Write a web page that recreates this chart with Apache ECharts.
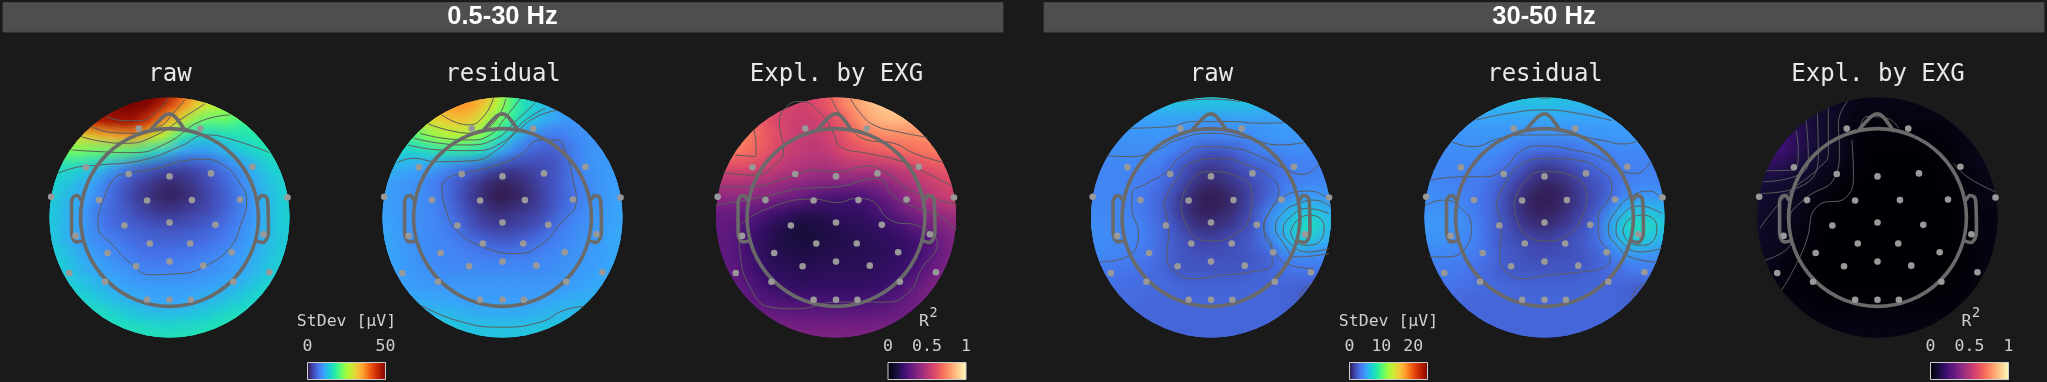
<!DOCTYPE html>
<html><head><meta charset="utf-8">
<style>html,body{margin:0;padding:0;background:#1a1a1a}#c{width:2047px;height:382px}</style>
<script src="https://cdn.jsdelivr.net/npm/echarts@6/dist/echarts.min.js"></script>
</head><body><div id="c"></div>
<script>
// Colour level (percent of each colour bar) read on a 17x17 lattice over each scalp map
const rawBroad=[
[90,95,99,99,100,100,100,100,99,83,68,52,45,40,38,36,34],
[85,88,92,98,100,100,100,97,85,72,60,54,50,43,40,38,36],
[60,65,72,88,92,95,93,82,65,56,43,40,42,38,36,34,32],
[40,45,58,62,65,68,69,56,50,34,28,28,30,33,35,36,36],
[40,44,44,42,41,41,38,31,25,20,19,20,24,27,30,33,34],
[30,31,30,27,24,17,12,10,8,7,8,11,15,20,25,29,31],
[30,28,25,22,15,11,7,5,3,4,6,9,12,17,23,27,30],
[29,26,23,20,14,10,6,4,2,3,5,8,11,16,22,26,29],
[28,25,22,17,13,11,8,6,5,6,7,9,12,16,21,26,29],
[28,25,22,18,14,12,11,10,9,9,10,12,14,18,22,26,29],
[28,25,22,19,17,15,13,12,12,12,13,14,16,19,22,26,28],
[29,28,24,21,19,17,15,14,14,15,16,17,19,21,24,27,29],
[30,28,25,23,21,20,18,17,17,17,18,19,20,22,25,28,30],
[32,31,28,26,24,22,21,21,21,21,21,22,23,25,28,31,33],
[34,33,31,29,27,25,24,22,22,22,24,25,27,29,31,33,35],
[35,35,34,33,32,30,28,27,27,27,28,30,32,33,34,35,35],
[36,36,35,35,34,34,33,33,32,33,33,34,34,35,35,36,36]];
const residualBroad=[
[60,62,65,68,70,71,71,68,52,36,28,22,20,20,20,20,20],
[55,58,60,64,68,72,72,62,50,38,30,27,22,20,20,20,20],
[40,42,45,58,60,63,62,52,42,33,26,22,20,19,19,19,19],
[30,32,38,44,49,51,49,43,33,24,17,14,14,18,19,19,19],
[28,29,28,30,32,33,32,29,22,15,12,10,11,16,19,20,20],
[25,24,22,21,20,15,13,10,7,6,7,8,10,16,19,20,21],
[22,20,19,18,14,11,7,4,2,3,5,8,11,15,18,20,21],
[22,20,19,18,15,11,6,3,1,2,4,7,11,14,18,20,22],
[22,20,19,18,16,12,8,5,4,5,6,8,12,16,19,20,22],
[22,21,19,18,17,14,10,7,6,7,8,11,15,18,19,21,22],
[23,21,19,18,17,16,14,12,11,11,13,15,17,18,20,21,23],
[23,21,20,18,17,17,16,16,15,16,16,17,18,19,20,21,23],
[23,21,20,19,18,18,18,18,18,18,18,18,19,20,21,22,23],
[24,22,21,20,20,20,20,20,20,20,20,20,20,21,22,23,24],
[25,24,23,23,22,22,21,21,21,21,21,22,23,24,24,25,25],
[27,27,26,26,26,25,24,24,24,24,24,25,25,26,26,27,27],
[28,28,28,28,28,28,27,27,27,27,27,28,28,28,28,28,28]];
const explBroad=[
[65,65,64,63,60,58,57,60,68,80,85,88,90,90,90,90,90],
[70,70,68,65,60,57,55,60,65,75,83,88,90,89,88,86,85],
[72,72,70,66,60,56,54,55,60,68,78,83,84,84,82,80,78],
[75,75,74,68,62,56,53,53,57,64,70,73,74,74,76,75,73],
[70,72,70,65,60,54,52,50,54,60,62,64,66,68,70,72,72],
[58,60,60,58,54,50,48,46,47,50,50,49,52,56,60,63,64],
[48,48,48,46,44,42,40,38,38,37,36,38,42,48,52,56,60],
[40,40,40,39,36,33,30,25,22,22,23,28,34,40,47,52,55],
[30,31,30,26,22,18,15,15,17,18,18,22,27,33,38,42,45],
[29,29,25,20,15,12,10,12,14,15,16,17,20,24,30,35,39],
[30,28,23,18,14,12,11,12,13,14,15,16,17,19,22,30,37],
[30,28,24,18,15,14,13,14,15,15,15,16,17,19,24,31,36],
[32,30,25,20,17,16,15,16,16,16,16,17,18,21,28,34,38],
[33,32,28,23,19,18,17,18,18,18,18,19,21,27,33,38,39],
[36,34,32,28,25,24,24,23,23,23,23,24,27,31,35,38,39],
[37,36,35,33,32,31,30,30,30,30,30,31,32,33,34,36,37],
[38,38,37,37,36,36,36,36,36,36,36,36,36,37,37,38,38]];
const rawHigh=[
[24,25,25,26,26,27,28,28,28,28,28,27,26,25,24,24,24],
[21,22,22,23,24,25,25,25,25,25,25,25,24,23,23,23,22],
[19,19,20,20,21,21,20,20,19,19,20,20,20,21,21,21,21],
[19,19,19,19,19,19,17,17,16,17,17,18,19,20,20,19,19],
[18,18,18,18,18,17,15,11,9,9,11,15,16,17,18,17,17],
[17,17,17,17,16,15,10,7,5,6,8,11,12,15,16,16,16],
[17,17,17,16,15,13,9,5,3,4,6,8,11,15,16,17,17],
[17,17,17,16,14,11,6,3,1,2,4,8,11,17,20,21,19],
[18,17,17,16,14,11,6,3,2,3,5,9,17,23,27,28,24],
[18,18,17,17,15,12,9,5,4,5,7,10,17,25,30,33,25],
[18,18,17,17,15,12,10,8,7,8,9,11,15,22,27,25,22],
[18,17,16,15,14,12,10,9,9,9,9,10,11,15,18,17,17],
[15,15,14,14,13,12,10,10,10,10,10,11,12,13,14,14,14],
[14,14,13,13,13,13,12,12,12,12,12,12,12,12,11,11,11],
[13,13,13,13,12,12,12,12,12,12,12,12,12,12,11,10,10],
[12,12,12,12,12,12,12,12,12,12,12,12,12,12,11,11,11],
[12,12,12,12,12,12,12,12,12,12,12,12,12,12,12,12,12]];
const residualHigh=[
[26,26,26,26,26,26,27,28,28,28,27,26,26,25,24,24,24],
[22,22,23,23,24,24,24,25,25,25,24,24,23,23,22,22,22],
[20,20,20,20,21,21,21,21,21,21,21,21,21,21,21,21,21],
[18,19,19,19,19,19,19,18,18,18,18,19,19,20,20,20,20],
[17,18,18,18,18,18,15,13,12,12,13,15,16,17,17,17,17],
[17,17,17,17,17,15,12,8,5,6,8,11,13,16,16,16,16],
[18,17,16,15,15,12,8,5,3,3,5,8,10,14,16,17,17],
[18,18,18,16,14,11,6,3,1,2,4,7,10,15,19,20,20],
[19,19,19,17,14,11,6,3,2,3,5,8,13,23,27,27,25],
[20,20,19,18,15,11,8,5,4,5,7,10,16,26,32,33,27],
[18,19,18,17,15,11,9,8,7,8,9,11,14,22,28,26,23],
[17,17,16,16,14,12,10,9,8,9,9,10,12,16,19,18,17],
[15,15,15,14,13,11,10,10,10,10,10,11,12,13,14,15,15],
[14,14,14,13,13,13,12,12,12,12,12,12,12,12,11,11,12],
[13,13,13,12,12,12,12,12,12,12,12,12,12,12,11,11,11],
[12,12,12,12,12,12,12,12,12,12,12,12,12,12,12,12,12],
[12,12,12,12,12,12,12,12,12,12,12,12,12,12,12,12,12]];
const explHigh=[
[3,3,5,6,7,7,5,4,4,4,4,4,4,4,4,4,4],
[14,14,14,12,9,7,5,3,3,3,3,3,3,3,4,4,4],
[19,19,18,13,10,7,4,2,2,2,2,2,2,3,3,4,4],
[20,20,20,15,10,7,4,1,1,1,1,1,1,2,3,4,4],
[19,20,20,13,10,7,4,1,0,0,0,0,1,1,3,4,5],
[17,16,13,10,8,5,3,1,0,0,0,0,0,1,2,4,5],
[10,10,9,7,5,3,1,0,0,0,0,0,0,1,1,3,4],
[9,8,7,5,3,1,0,0,0,0,0,0,0,0,1,3,4],
[8,7,5,4,1,0,0,0,0,0,0,0,0,0,1,2,3],
[8,6,5,3,1,0,0,0,0,0,0,0,0,0,1,2,3],
[7,6,5,2,1,0,0,0,0,0,0,0,0,0,1,2,3],
[6,5,3,1,0,0,0,0,0,0,0,0,0,0,1,2,3],
[5,4,2,1,0,0,0,0,0,0,0,0,0,0,1,2,3],
[4,3,2,1,1,0,0,0,0,0,0,0,0,1,1,2,3],
[4,3,2,2,1,1,1,1,1,1,1,1,1,1,2,3,3],
[4,4,3,3,2,2,2,2,2,2,2,2,2,2,3,3,4],
[4,4,4,4,3,3,3,3,3,3,3,3,3,3,4,4,4]];

// Iso-lines read per map, in the map's own scalp-plane units
const isoRawBroad=[
[[505,295],[470,335],[420,362],[370,362],[320,350]],
[[555,300],[520,340],[480,380],[400,400],[340,398],[275,380]],
[[615,312],[540,360],[470,405],[380,430],[310,425],[245,410]],
[[690,345],[600,365],[500,430],[400,458],[300,455],[215,450]],
[[808,458],[700,420],[620,405],[540,440],[430,480],[300,495],[240,500],[175,520]],
[[315,590],[345,535],[387,520],[470,505],[540,485],[610,478],[665,492],[720,550],[740,605],[725,665],[690,742],[620,795],[540,820],[450,823],[400,795],[340,735],[295,675],[300,630],[315,590]]];
const isoResidualBroad=[
[[460,295],[430,350],[385,375],[305,345]],
[[497,297],[460,370],[400,400],[330,392],[265,372]],
[[540,297],[490,360],[450,405],[390,420],[310,415],[240,400]],
[[585,310],[520,370],[470,415],[380,435],[300,430],[222,415]],
[[615,325],[550,365],[490,425],[400,452],[300,450],[205,435]],
[[648,332],[590,350],[530,395],[470,450],[400,482],[290,485],[220,475],[172,488]],
[[305,555],[330,530],[380,518],[470,495],[540,465],[600,420],[650,420],[680,470],[700,550],[708,600],[660,670],[600,735],[530,760],[430,740],[350,690],[315,620],[305,555]],
[[245,915],[350,960],[480,980],[600,965],[670,930],[730,918]]];
const isoExplBroad=[
[[510,295],[540,340],[580,375],[650,395],[740,412]],
[[452,295],[500,370],[560,420],[640,430],[700,460],[787,487]],
[[130,517],[220,525],[290,490],[310,450],[298,370],[320,320],[360,305],[420,340],[460,400],[480,440],[560,460],[650,480],[720,510],[815,558]],
[[222,390],[228,440],[225,470],[165,465]],
[[118,560],[200,560],[330,530],[400,510],[470,515],[560,498],[620,520],[690,570],[828,612]],
[[108,615],[250,590],[370,565],[470,560],[590,535],[640,590],[700,620],[780,650],[825,690]],
[[175,680],[250,630],[400,597],[470,607],[530,595],[570,600],[630,660],[720,680],[770,730],[720,810],[690,870],[620,905],[470,905],[350,925],[270,920],[210,860],[180,760],[175,680]]];
const isoRawHigh=[
[[475,305],[570,298],[660,305]],
[[330,385],[450,380],[520,365],[630,365],[720,370],[790,368]],
[[262,467],[330,470],[410,450],[470,420],[570,400],[680,415],[780,435],[850,428]],
[[240,785],[320,770],[355,700],[335,620],[335,580],[380,550],[440,515],[480,470],[550,440],[640,445],[720,470],[800,510],[850,523],[895,490]],
[[430,610],[460,550],[520,485],[600,475],[680,495],[750,530],[775,575],[750,630],[730,680],[755,745],[755,790],[690,815],[600,825],[520,835],[465,815],[440,770],[445,700],[430,610]],
[[482,615],[510,545],[570,515],[640,525],[695,580],[690,640],[640,705],[570,722],[510,695],[482,615]],
[[810,695],[830,660],[870,645],[910,680],[900,720],[860,735],[825,725],[810,695]],
[[925,640],[860,625],[810,650],[788,690],[810,730],[860,755],[925,745]],
[[930,620],[880,600],[830,612],[790,635],[765,680],[790,730],[830,770],[925,760]],
[[925,600],[870,573],[830,575],[790,590],[750,630],[730,680],[755,745],[810,795],[880,805]],
[[835,895],[850,865],[875,850]]];
const isoResidualHigh=[
[[540,295],[570,295]],
[[350,360],[450,340],[554,330],[650,340],[755,362]],
[[275,425],[340,440],[420,415],[500,405],[620,405],[720,420],[790,432],[830,425]],
[[215,540],[310,530],[380,530],[440,500],[480,455],[540,438],[640,450],[730,475],[790,515],[830,520],[870,485]],
[[195,617],[250,600],[300,620],[335,680],[320,740],[260,770],[210,770]],
[[410,620],[430,560],[490,490],[560,475],[650,480],[720,510],[755,560],[750,590],[715,650],[715,700],[750,770],[735,800],[660,815],[560,825],[490,835],[440,815],[420,760],[425,690],[410,620]],
[[463,615],[490,550],[550,515],[630,525],[680,590],[670,640],[630,700],[560,722],[490,695],[463,615]],
[[788,690],[810,655],[850,645],[890,680],[880,720],[840,735],[805,725],[788,690]],
[[905,640],[840,618],[790,640],[768,690],[790,730],[840,755],[905,745]],
[[905,600],[870,573],[820,585],[770,630],[745,690],[770,735],[810,770],[890,785]],
[[815,895],[830,865],[855,850]]];
const isoExplHigh=[
[[268,392],[275,450],[260,510],[180,512]],
[[298,362],[305,470],[285,520],[170,545]],
[[332,340],[335,470],[280,560],[165,580]],
[[365,325],[365,460],[340,500],[240,585],[160,685]],
[[422,305],[395,370],[398,450],[385,530],[290,600],[250,660],[255,720],[175,780]],
[[435,420],[440,520],[420,590],[330,620],[300,720],[270,790],[225,870]],
[[460,385],[480,350],[540,355],[575,385]],
[[740,490],[780,530],[865,575]]];

// Electrode positions and head outline, in the first map's scalp-plane units
const electrodes=[[417,386],[601,386],[259,502],[757,500],[387,522],[509,529],[633,520],[155,590],[298,600],[442,601],[576,600],[720,598],[862,592],[374,676],[509,667],[646,674],[228,707],[790,702],[450,730],[571,730],[324,758],[695,756],[409,798],[509,784],[610,796],[209,818],[808,816],[316,844],[700,844],[442,898],[509,898],[573,898]];
const noseOutline=[[455,388],[490,350],[509,342],[525,350],[556,392]];
const leftEar=[[243,598],[233,586],[222,590],[216,605],[216,690],[218,710],[230,725],[248,722]];
const rightEar=[[775,598],[785,586],[798,590],[803,605],[805,690],[802,712],[788,727],[770,722]];

// Panels
const mapTitles=['raw','residual','Expl. by EXG','raw','residual','Expl. by EXG'];
const mapFields=[rawBroad,residualBroad,explBroad,rawHigh,residualHigh,explHigh];
const mapIso=[isoRawBroad,isoResidualBroad,isoExplBroad,isoRawHigh,isoResidualHigh,isoExplHigh];
const mapLeftUnits=[150,128,108,213,195,153];
const mapCentersPx=[169.5,502.5,836,1211,1544.5,1877.5];
const headerTitles=['0.5-30 Hz','30-50 Hz'];
const barTitles=['StDev [µV]','R','StDev [µV]','R'];
const barMax=[50,1,24.5,1];
const barTicks=[[0,50],[0,0.5,1],[0,10,20],[0,0.5,1]];
const barLeftPx=[307.5,888,1349.5,1930.5];

const turbo=['#30123b','#4145ab','#4675ed','#39a2fc','#1bcfd4','#24eca6','#61fc6c','#a4fc3b','#d1e834','#f3c63a','#fe9b2d','#f36315','#d93806','#b11901','#7a0402'];
const magma=['#000004','#140e36','#3b0f70','#641a80','#8c2981','#b73779','#de4968','#f7705c','#fe9f6d','#fecf92','#fcfdbf'];
const mapPalette=[turbo,turbo,magma,turbo,turbo,magma];
const barPalette=[turbo,magma,turbo,magma];

function hex(c){return [1,3,5].map(i=>parseInt(c.substr(i,2),16));}
function colourAt(pal,pct){
  const t=Math.max(0,Math.min(1,pct/100))*(pal.length-1),i=Math.min(pal.length-2,Math.floor(t)),f=t-i;
  const a=hex(pal[i]),b=hex(pal[i+1]);
  return a.map((v,k)=>Math.round(v+(b[k]-v)*f));
}
const UNITS=718, R_PX=120, TOP_UNITS=293, CY_PX=217.5;
const grids=[],xAxes=[],yAxes=[],series=[],titles=[],graphics=[];

headerTitles.forEach((t,i)=>{
  const l=i?1044:3, r=i?2044:1003;
  graphics.push({type:'rect',z:0,shape:{x:l,y:2.5,width:r-l,height:29.5},style:{fill:'#4e4e4e',stroke:'#444',lineWidth:1}});
  titles.push({text:t,padding:0,left:i?1544:502.5,top:17,textAlign:'center',textVerticalAlign:'middle',textStyle:{color:'#fff',fontFamily:'Liberation Sans',fontWeight:'bold',fontSize:25.5}});
});

mapTitles.forEach((t,m)=>{
  const L=mapLeftUnits[m], pal=mapPalette[m];
  grids.push({left:mapCentersPx[m]-R_PX,top:CY_PX-R_PX,width:2*R_PX,height:2*R_PX,show:false});
  xAxes.push({gridIndex:m,type:'value',min:L,max:L+UNITS,show:false});
  yAxes.push({gridIndex:m,type:'value',min:TOP_UNITS,max:TOP_UNITS+UNITS,inverse:true,show:false});
  titles.push({text:t,padding:0,left:mapCentersPx[m]+.5,top:74.5,textAlign:'center',textVerticalAlign:'middle',textStyle:{color:'#e8e8e8',fontFamily:'DejaVu Sans Mono',fontWeight:'normal',fontSize:24}});
  const cells=[];
  mapFields[m].forEach((row,r)=>row.forEach((v,c)=>cells.push([L+c*UNITS/16,TOP_UNITS+r*UNITS/16,v])));
  const step=UNITS/16;
  const clip=api=>{const p=api.coord([L+UNITS/2,TOP_UNITS+UNITS/2]);return {type:'circle',shape:{cx:p[0],cy:p[1],r:R_PX}};};
  const base={type:'custom',xAxisIndex:m,yAxisIndex:m,silent:true,animation:false,clip:false,data:cells,encode:{x:0,y:1}};
  series.push(Object.assign({},base,{z:1,renderItem(par,api){
    const p=api.coord([api.value(0),api.value(1)]),s=api.size([step,step]),col=colourAt(pal,api.value(2));
    return {type:'rect',shape:{x:p[0]-s[0]/2-.5,y:p[1]-s[1]/2-.5,width:s[0]+1,height:s[1]+1},style:{fill:'rgb('+col+')'},clipPath:clip(api)};
  }}));
  series.push(Object.assign({},base,{z:2,renderItem(par,api){
    const p=api.coord([api.value(0),api.value(1)]),s=api.size([step,step]),col=colourAt(pal,api.value(2));
    return {type:'circle',shape:{cx:p[0],cy:p[1],r:s[0]*1.5},clipPath:clip(api),style:{fill:new echarts.graphic.RadialGradient(.5,.5,.5,[
      {offset:0,color:'rgba('+col+',0.85)'},{offset:.45,color:'rgba('+col+',0.5)'},{offset:1,color:'rgba('+col+',0)'}])}};
  }}));
  mapIso[m].forEach(line=>series.push({type:'line',xAxisIndex:m,yAxisIndex:m,z:3,silent:true,animation:false,data:line,smooth:.5,showSymbol:false,symbol:'none',lineStyle:{color:'#5c5c5c',width:1}}));
  const dx=L-mapLeftUnits[0];
  series.push({type:'custom',xAxisIndex:m,yAxisIndex:m,z:4,silent:true,animation:false,clip:false,data:[[L+UNITS/2,TOP_UNITS+UNITS/2]],encode:{x:0,y:1},renderItem(par,api){
    const p=api.coord([api.value(0),api.value(1)]);
    return {type:'circle',shape:{cx:p[0],cy:p[1],r:R_PX*.741},style:{fill:'none',stroke:'#6a6a6a',lineWidth:3.6}};
  }});
  [noseOutline,leftEar,rightEar].forEach(o=>series.push({type:'line',xAxisIndex:m,yAxisIndex:m,z:4,silent:true,animation:false,clip:false,data:o.map(q=>[q[0]+dx,q[1]]),smooth:.3,showSymbol:false,symbol:'none',lineStyle:{color:'#6a6a6a',width:3.6,cap:'round',join:'round'}}));
  series.push({type:'scatter',xAxisIndex:m,yAxisIndex:m,z:5,silent:true,animation:false,clip:false,symbolSize:6.6,data:electrodes.map(q=>[q[0]+dx,q[1]]),itemStyle:{color:'#999',opacity:1}});
});

barMax.forEach((max,b)=>{
  const g=grids.length, pal=barPalette[b], left=barLeftPx[b], width=78;
  grids.push({left,top:362.5,width,height:17,show:false});
  xAxes.push({gridIndex:g,type:'value',min:0,max,position:'top',axisLine:{show:false},axisTick:{show:false},splitLine:{show:false},
    axisLabel:{show:true,customValues:barTicks[b],margin:7,hideOverlap:false,color:'#cfcfcf',fontFamily:'DejaVu Sans Mono',fontSize:16.5,formatter:v=>String(v)}});
  yAxes.push({gridIndex:g,type:'value',min:0,max:1,show:false});
  series.push({type:'custom',xAxisIndex:g,yAxisIndex:g,z:6,silent:true,animation:false,data:[[0,max]],encode:{x:[0,1]},renderItem(par,api){
    const a=api.coord([api.value(0),1]),c=api.coord([api.value(1),0]);
    return {type:'rect',shape:{x:a[0],y:a[1],width:c[0]-a[0],height:c[1]-a[1]},style:{stroke:'#cfcfcf',lineWidth:1,
      fill:new echarts.graphic.LinearGradient(0,0,1,0,pal.map((col,i)=>({offset:i/(pal.length-1),color:col})))}};
  }});
  const isR=barTitles[b]==='R', cx=left+width/2+(isR?-3:0);
  titles.push({text:barTitles[b],padding:0,left:cx,top:321.5,textAlign:'center',textVerticalAlign:'middle',textStyle:{color:'#cfcfcf',fontFamily:'DejaVu Sans Mono',fontWeight:'normal',fontSize:16.5}});
  if(isR) titles.push({text:'2',padding:0,left:cx+9.5,top:313,textAlign:'center',textVerticalAlign:'middle',textStyle:{color:'#cfcfcf',fontFamily:'DejaVu Sans Mono',fontWeight:'normal',fontSize:13.5}});
});

const chart=echarts.init(document.getElementById('c'),null,{renderer:'canvas'});
chart.setOption({backgroundColor:'#1a1a1a',animation:false,tooltip:{show:false},title:titles,grid:grids,xAxis:xAxes,yAxis:yAxes,series,graphic:graphics.map(x=>Object.assign(x,{silent:true}))});
</script></body></html>
